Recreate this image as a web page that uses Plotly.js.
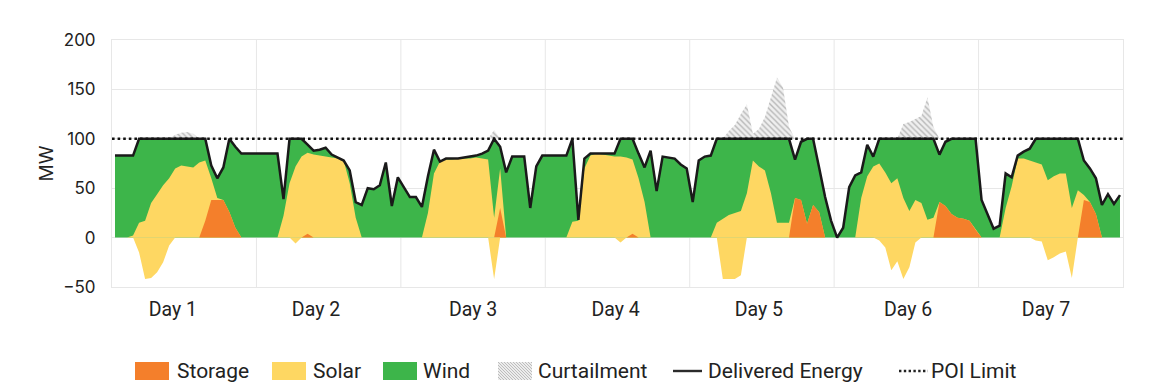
<!DOCTYPE html>
<html><head><meta charset="utf-8">
<script src="https://cdn.plot.ly/plotly-3.0.1.min.js"></script>
<style>html,body{margin:0;padding:0;background:#fff;}#chart{width:1166px;height:388px;}</style>
</head><body><div id="chart"></div>
<script>
// ---- data (hourly, 7 days) ----
const dayLabels = ['Day 1','Day 2','Day 3','Day 4','Day 5','Day 6','Day 7'];
const dayLabelHours = [9.6, 33.4, 59.5, 83.2, 107, 131.8, 154.7];
const poiLimit = 100;

const delivered = [
 83,83,83,83,100,100,100,100,100,100,100,100,100,100,100,100,73,60,71,100,92,85,85,85,
 85,85,85,85,39,100,100,100,94,88,89,91,84,81,78,68,36,33,50,49,53,76,32,61,
 51,41,41,31,62,89,77,80,80,80,81,82,83,85,88,100,92,66,82,82,82,30,72,83,
 83,83,83,83,100,18,80,85,85,85,85,85,100,100,100,85,71,88,47,82,81,80,74,70,
 36,78,82,83,100,100,100,100,100,100,100,100,100,100,100,100,100,79,97,100,100,71,41,17,
 0,10,51,63,66,94,82,100,100,100,100,100,100,100,100,100,100,84,97,100,100,100,100,100,
 38,24,9,12,65,61,83,87,90,100,100,100,100,100,100,100,100,78,70,60,33,44,34,43
];
const solar = [
 0,0,0,2,15,17,35,44,53,60,70,73,72,71,76,61,22,2,0,0,0,0,0,0,
 0,0,0,0,22,55,72,82,82,84,83,82,81,80,78,55,20,0,0,0,0,0,0,0,
 0,0,0,0,25,65,77,79,79,80,80,80,81,80,79,20,40,0,0,0,0,0,0,0,
 0,0,0,0,16,17,70,83,85,84,83,82,82,81,75,60,36,0,0,0,0,0,0,0,
 0,0,0,0,15,19,23,25,27,45,78,72,68,45,15,15,15,0,0,0,0,0,0,0,
 0,0,0,0,40,62,72,75,66,55,60,40,27,38,35,18,20,0,0,0,0,0,0,0,
 0,0,0,0,30,52,80,80,78,76,74,58,62,65,65,30,48,5,0,0,0,0,0,0
];
const storage = [
 0,0,0,0,0,0,0,0,0,0,0,0,0,0,0,17,38,38,38,26,10,0,0,0,
 0,0,0,0,0,0,0,0,4,0,0,0,0,0,0,0,0,0,0,0,0,0,0,0,
 0,0,0,0,0,0,0,0,0,0,0,0,0,0,0,0,30,0,0,0,0,0,0,0,
 0,0,0,0,0,0,0,0,0,0,0,0,0,0,4,0,0,0,0,0,0,0,0,0,
 0,0,0,0,0,0,0,0,0,0,0,0,0,0,0,0,0,40,38,14,33,26,0,0,
 0,0,0,0,0,0,0,0,0,0,0,0,0,0,0,0,0,36,32,24,20,19,17,8,
 0,0,0,0,0,0,0,0,0,0,0,0,0,0,0,0,0,38,36,24,0,0,0,0
];
const solarCharging = [
 0,0,0,0,-15,-42,-41,-35,-25,-8,0,0,0,0,0,0,0,0,0,0,0,0,0,0,
 0,0,0,0,0,0,-6,0,0,0,0,0,0,0,0,0,0,0,0,0,0,0,0,0,
 0,0,0,0,0,0,0,0,0,0,0,0,0,0,0,-42,0,0,0,0,0,0,0,0,
 0,0,0,0,0,0,0,0,0,0,0,0,-5,0,0,0,0,0,0,0,0,0,0,0,
 0,0,0,0,0,-42,-42,-42,-38,0,0,0,0,0,0,0,0,0,0,0,0,0,0,0,
 0,0,0,0,0,0,0,-3,-10,-33,-24,-42,-30,-5,0,0,0,0,0,0,0,0,0,0,
 0,0,0,0,0,0,0,0,0,-3,-4,-23,-20,-16,-14,-41,0,0,0,0,0,0,0,0
];
const curtailment = [
 0,0,0,0,0,0,0,0,0,0,4,6,7,5,0,0,0,0,0,0,0,0,0,0,
 0,0,0,0,0,0,0,0,0,0,0,0,0,0,0,0,0,0,0,0,0,0,0,0,
 0,0,0,0,0,0,0,0,0,0,0,0,0,0,0,9,0,0,0,0,0,0,0,0,
 0,0,0,0,0,0,0,0,0,0,0,0,0,0,0,0,0,0,0,0,0,0,0,0,
 0,0,0,0,0,0,8,14,25,35,5,10,22,42,62,52,12,0,0,0,0,0,0,0,
 0,0,0,0,0,0,0,0,0,0,0,15,17,20,23,42,12,0,0,0,0,0,0,0,
 0,0,0,0,0,0,0,0,0,0,0,0,0,0,0,0,0,0,0,0,0,0,0,0
];

// ---- derived ----
const hours = delivered.map((_, i) => i);
const wind = delivered.map((d, i) => d - storage[i] - solar[i]);
const stackWind = hours.map(i => storage[i] + solar[i] + wind[i]);
const stackSolar = hours.map(i => storage[i] + solar[i]);
const poiLine = hours.map(() => poiLimit);
const curtTop = hours.map(i => poiLimit + curtailment[i]);

const C = {storage:'#f47f2b', solar:'#fed762', wind:'#3db54a', line:'#1a1a1a', grid:'#e7e7e7'};
const xRange = [-0.5, 167.5];

const traces = [
 {x:hours, y:stackWind, type:'scatter', mode:'lines', fill:'tozeroy', fillcolor:C.wind, line:{width:0,color:C.wind}, name:'Wind', customdata:wind, hovertemplate:'Wind %{customdata} MW<extra></extra>'},
 {x:hours, y:stackSolar, type:'scatter', mode:'lines', fill:'tozeroy', fillcolor:C.solar, line:{width:0,color:C.solar}, name:'Solar', customdata:solar, hovertemplate:'Solar %{customdata} MW<extra></extra>'},
 {x:hours, y:storage, type:'scatter', mode:'lines', fill:'tozeroy', fillcolor:C.storage, line:{width:0,color:C.storage}, name:'Storage'},
 {x:hours, y:solarCharging, type:'scatter', mode:'lines', fill:'tozeroy', fillcolor:C.solar, line:{width:0,color:C.solar}, name:'Solar (charging)'},
 {x:hours, y:poiLine, type:'scatter', mode:'lines', line:{width:0}, hoverinfo:'skip'},
 {x:hours, y:curtTop, type:'scatter', mode:'lines', fill:'tonexty', fillcolor:'#ececec',
  fillpattern:{shape:'\\', fgcolor:'#b8b8b8', bgcolor:'#efefef', size:4, solidity:0.35},
  line:{width:0,color:'#cccccc'}, name:'Curtailment', customdata:curtailment, hovertemplate:'Curtailment %{customdata} MW<extra></extra>'},
 {x:hours, y:delivered, type:'scatter', mode:'lines', line:{color:C.line, width:2.5}, name:'Delivered Energy'},
 {x:xRange, y:[poiLimit, poiLimit], type:'scatter', mode:'lines', line:{color:'#111', width:2.6, dash:'2.6px,3px'}, name:'POI Limit'}
];

// ---- layout helpers (pixel -> paper) ----
const PL=112, PR=1123, PT=40, PB=287;
const px = v => (v-PL)/(PR-PL);
const py = v => (PB-v)/(PB-PT);

const shapes = [];
for (let k = 1; k < dayLabels.length; k++) {
  shapes.push({type:'line', xref:'x', yref:'paper', x0:24*k-0.5, x1:24*k-0.5, y0:0, y1:1, line:{color:C.grid, width:1}, layer:'below'});
}
const annotations = [];
const condFont = 'Roboto, sans-serif';
const legendY = 371, boxH = 18, boxW = 34;
const legendItems = [
 {label:'Storage', kind:'box', color:C.storage, x:135, tx:175},
 {label:'Solar', kind:'box', color:C.solar, x:272, tx:311},
 {label:'Wind', kind:'box', color:C.wind, x:383, tx:421},
 {label:'Curtailment', kind:'hatch', x:498, tx:536},
 {label:'Delivered Energy', kind:'line', x:673, tx:706},
 {label:'POI Limit', kind:'dot', x:899, tx:929}
];
legendItems.forEach(it => {
  const yt = legendY - boxH/2, yb = legendY + boxH/2;
  if (it.kind === 'box' || it.kind === 'hatch') {
    shapes.push({type:'rect', xref:'paper', yref:'paper', x0:px(it.x), x1:px(it.x+boxW), y0:py(yb), y1:py(yt),
      fillcolor: it.kind === 'box' ? it.color : '#ececec', line:{width:0}});
    if (it.kind === 'hatch') {
      let p = '';
      const s = 3;
      for (let d = -boxH; d < boxW; d += s) {
        const t0 = Math.max(0, -d), t1 = Math.min(boxH, boxW - d);
        if (t1 > t0) {
          p += `M${px(it.x + d + t0)},${py(yt + t0)}L${px(it.x + d + t1)},${py(yt + t1)}`;
        }
      }
      shapes.push({type:'path', xref:'paper', yref:'paper', path:p, line:{color:'#bdbdbd', width:1}});
    }
  } else {
    shapes.push({type:'line', xref:'paper', yref:'paper', x0:px(it.x), x1:px(it.x+29), y0:py(legendY), y1:py(legendY),
      line:{color: it.kind === 'line' ? '#2b2b2b' : '#222', width: 2.4, dash: it.kind === 'line' ? 'solid' : '2.4px,2.4px'}});
  }
  annotations.push({xref:'paper', yref:'paper', x:px(it.tx), y:py(legendY), xanchor:'left', yanchor:'middle',
    text:it.label, showarrow:false, font:{family:condFont, size:21, color:'#222'}});
});

const layout = {
  width:1166, height:388,
  margin:{l:112, r:43, t:40, b:101},
  paper_bgcolor:'#fff', plot_bgcolor:'#fff',
  showlegend:false,
  hovermode:'x',
  xaxis:{range:xRange, tickmode:'array', tickvals:dayLabelHours, ticktext:dayLabels,
    showgrid:false, zeroline:false, showline:true, mirror:true, linecolor:C.grid, linewidth:1,
    ticks:'', ticklabelstandoff:5, tickfont:{family:condFont, size:19.5, color:'#222'}},
  yaxis:{range:[-50,200], dtick:50, tick0:0, showgrid:true, gridcolor:C.grid, zeroline:true, zerolinecolor:C.grid,
    showline:true, mirror:true, linecolor:C.grid, ticks:'', ticklabelstandoff:12,
    tickfont:{family:'Inter, Lato, sans-serif', size:17, color:'#222'},
    title:{text:'MW', standoff:4, font:{family:'Inter, Lato, sans-serif', size:19, color:'#222'}}},
  shapes:shapes, annotations:annotations
};
Plotly.newPlot('chart', traces, layout, {displayModeBar:false, staticPlot:true});
</script></body></html>
